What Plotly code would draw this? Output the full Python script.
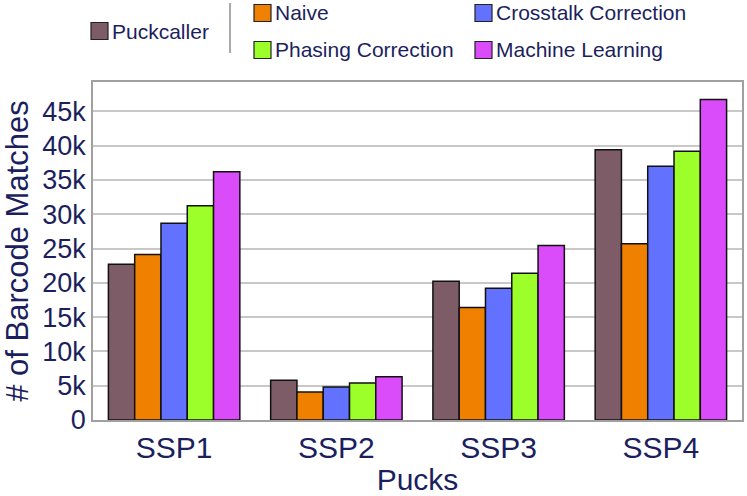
import plotly.graph_objects as go

categories = ["SSP1", "SSP2", "SSP3", "SSP4"]
puckcaller = [22700, 5800, 20250, 39400]
naive = [24150, 4080, 16400, 25700]
crosstalk = [28700, 4810, 19200, 37000]
phasing = [31250, 5390, 21400, 39200]
machine_learning = [36200, 6310, 25450, 46750]

series_names = ["Puckcaller", "Naive", "Crosstalk Correction", "Phasing Correction", "Machine Learning"]
series_values = [puckcaller, naive, crosstalk, phasing, machine_learning]
series_colors = ["#7d5c68", "#f08000", "#6272ff", "#9cff2a", "#da4cf9"]

tick_vals = [0, 5000, 10000, 15000, 20000, 25000, 30000, 35000, 40000, 45000]
tick_text = ["0", "5k", "10k", "15k", "20k", "25k", "30k", "35k", "40k", "45k"]

W, H = 747, 496
ML, MR, MT, MB = 93, 5, 82, 76
PW, PH = W - ML - MR, H - MT - MB
TXT = "#1c1f5e"
FONT = "Liberation Sans, Arial, sans-serif"


def px_x(p):
    return (p - ML) / PW


def px_y(p):
    return (H - MB - p) / PH


fig = go.Figure()
for name, vals, col in zip(series_names, series_values, series_colors):
    fig.add_trace(go.Bar(
        x=categories, y=vals, name=name,
        marker=dict(color=col, line=dict(color="#111111", width=1.5)),
    ))

# custom legend layout: swatch left px, row centre px
legend_slots = [(91, 31), (254, 13), (475, 13), (254, 50), (475, 50)]
shapes = []
annotations = []
for (sx, cy), name, col in zip(legend_slots, series_names, series_colors):
    shapes.append(dict(type="rect", xref="paper", yref="paper",
                       x0=px_x(sx), x1=px_x(sx + 17), y0=px_y(cy - 8.5), y1=px_y(cy + 8.5),
                       fillcolor=col, line=dict(color="#222222", width=1.2)))
    annotations.append(dict(text=name, xref="paper", yref="paper",
                            x=px_x(sx + 19), y=px_y(cy), xanchor="left", yanchor="middle",
                            showarrow=False, font=dict(family=FONT, size=21, color=TXT)))
shapes.append(dict(type="line", xref="paper", yref="paper",
                   x0=px_x(230), x1=px_x(230), y0=px_y(3), y1=px_y(53),
                   line=dict(color="#555555", width=1)))

fig.update_layout(
    width=W, height=H,
    margin=dict(l=ML, r=MR, t=MT, b=MB, autoexpand=False),
    paper_bgcolor="white", plot_bgcolor="white",
    barmode="group", bargap=0.19, bargroupgap=0,
    font=dict(family=FONT, color=TXT),
    showlegend=False,
    shapes=shapes, annotations=annotations,
)
fig.update_xaxes(
    title=dict(text="Pucks", font=dict(size=30, color=TXT), standoff=10),
    tickfont=dict(size=30, color=TXT),
    showline=True, mirror=True, linecolor="#a0a0a0", linewidth=1.5,
    ticks="", automargin=True,
)
fig.update_yaxes(
    title=dict(text="# of Barcode Matches", font=dict(size=31, color=TXT), standoff=8),
    tickfont=dict(size=27, color=TXT),
    tickvals=tick_vals, ticktext=tick_text,
    range=[0, 49300],
    showgrid=True, gridcolor="#c8c8c8", gridwidth=1.5,
    showline=True, mirror=True, linecolor="#a0a0a0", linewidth=1.5,
    zeroline=False, ticks="", automargin=True,
)

fig.write_html("out.html", config={"displayModeBar": False},
               post_script="document.body.style.margin='0';")
